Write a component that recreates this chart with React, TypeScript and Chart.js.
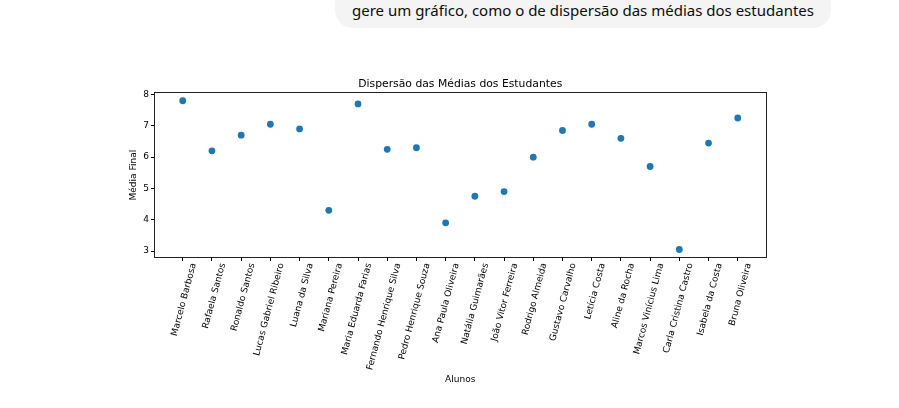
import { useEffect, useRef } from 'react';
import { Chart, registerables } from 'chart.js';

Chart.register(...registerables);

const students = [
  'Marcelo Barbosa',
  'Rafaela Santos',
  'Ronaldo Santos',
  'Lucas Gabriel Ribeiro',
  'Luana da Silva',
  'Mariana Pereira',
  'Maria Eduarda Farias',
  'Fernando Henrique Silva',
  'Pedro Henrique Souza',
  'Ana Paula Oliveira',
  'Natália Guimarães',
  'João Vitor Ferreira',
  'Rodrigo Almeida',
  'Gustavo Carvalho',
  'Letícia Costa',
  'Aline da Rocha',
  'Marcos Vinícius Lima',
  'Carla Cristina Castro',
  'Isabela da Costa',
  'Bruna Oliveira',
];

const averages = [
  7.8, 6.2, 6.7, 7.05, 6.9, 4.3, 7.7, 6.25, 6.3, 3.9,
  4.75, 4.9, 6.0, 6.85, 7.05, 6.6, 5.7, 3.05, 6.45, 7.25,
];

const yTicks = [3, 4, 5, 6, 7, 8];

const font = { family: 'DejaVu Sans', size: 9 };

export default function App() {
  const chartRef = useRef<HTMLCanvasElement>(null);

  useEffect(() => {
    const ctx = chartRef.current?.getContext('2d');
    if (!ctx) return;

    // matplotlib draws a full box round the axes
    const frame = {
      id: 'frame',
      afterDraw(chart: Chart) {
        const { left, top, width, height } = chart.chartArea;
        const c = chart.ctx;
        c.save();
        c.strokeStyle = '#222';
        c.lineWidth = 1;
        c.strokeRect(Math.round(left) - 0.5, Math.round(top) - 0.5, Math.round(width) + 1, Math.round(height) + 1);
        c.restore();
      },
    };

    const chart = new Chart(ctx, {
      type: 'scatter',
      data: {
        datasets: [{
          data: averages.map((v, i) => ({ x: i, y: v })),
          backgroundColor: '#1f77b4',
          borderWidth: 0,
          pointRadius: 3.4,
        }],
      },
      options: {
        responsive: true,
        maintainAspectRatio: false,
        animation: false,
        layout: { padding: { left: 120, right: 133.5, top: 78, bottom: 0 } },
        plugins: {
          legend: { display: false },
          tooltip: { enabled: false },
          title: {
            display: true,
            fullSize: false,
            text: 'Dispersão das Médias dos Estudantes',
            color: '#000',
            font: { family: 'DejaVu Sans', size: 10.8, weight: 'normal' },
            padding: { top: 0, bottom: 2.3 },
          },
        },
        scales: {
          x: {
            type: 'linear',
            min: -0.95,
            max: 19.95,
            afterBuildTicks: (s: any) => { s.ticks = students.map((_, i) => ({ value: i })); },
            afterFit: (s: any) => { s.height = 151; },
            grid: { drawOnChartArea: false, drawTicks: true, tickLength: 4, color: '#000' },
            border: { display: false },
            ticks: {
              autoSkip: false,
              minRotation: 75,
              maxRotation: 75,
              padding: 1,
              labelOffset: 11,
              color: '#000',
              font,
              callback: (v: any) => students[Number(v)] ?? '',
            },
            title: { display: true, text: 'Alunos', color: '#000', font, padding: { top: 0, bottom: 22.6 } },
          },
          y: {
            min: 2.81,
            max: 8.04,
            afterBuildTicks: (s: any) => { s.ticks = yTicks.map((v) => ({ value: v })); },
            afterFit: (s: any) => { s.width = 35; },
            grid: { drawOnChartArea: false, drawTicks: true, tickLength: 4, color: '#000' },
            border: { display: false },
            ticks: { padding: 2, color: '#000', font, callback: (v: any) => String(v) },
            title: { display: true, text: 'Média Final', color: '#000', font, padding: { top: 8, bottom: 0 } },
          },
        },
      },
      plugins: [frame],
    });

    return () => chart.destroy();
  }, []);

  return (
    <div style={{ position: 'fixed', left: 0, top: 0, width: 899, height: 408, background: '#fff', overflow: 'hidden' }}>
      <div
        style={{
          position: 'absolute',
          left: 335,
          top: -20,
          width: 496,
          height: 47.5,
          borderRadius: 18,
          background: '#f4f4f4',
        }}
      >
        <div
          style={{
            position: 'absolute',
            left: 17,
            top: 17.5,
            fontFamily: 'Noto Sans',
            fontSize: 15,
            lineHeight: '24px',
            color: '#0d0d0d',
            whiteSpace: 'nowrap',
          }}
        >
          gere um gráfico, como o de dispersão das médias dos estudantes
        </div>
      </div>
      <div style={{ position: 'absolute', left: 0, top: 0, width: 899, height: 408 }}>
        <canvas ref={chartRef} />
      </div>
    </div>
  );
}
